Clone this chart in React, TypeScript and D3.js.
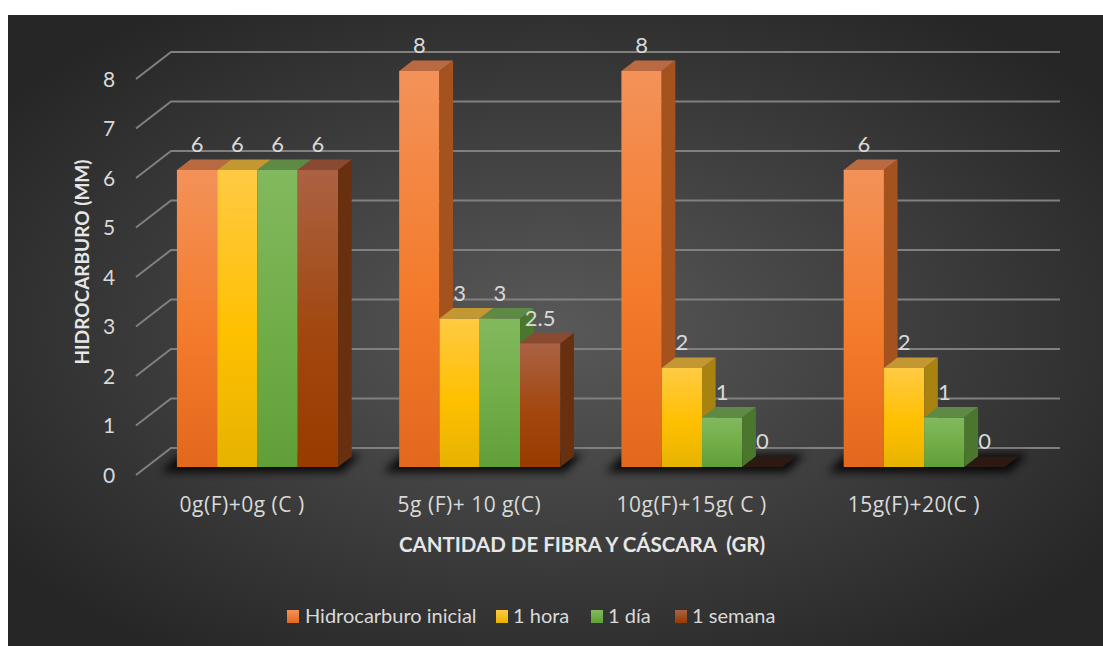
import React from "react";
import * as d3 from "d3";

// Chart data
const categories = ["0g(F)+0g (C )", "5g (F)+ 10 g(C)", "10g(F)+15g( C )", "15g(F)+20(C )"];
const seriesNames = ["Hidrocarburo inicial", "1 hora", "1 día", "1 semana"];
const hidrocarburoInicial = [6, 8, 8, 6];
const unaHora = [6, 3, 2, 2];
const unDia = [6, 3, 1, 1];
const unaSemana = [6, 2.5, 0, 0];
const yTicks = [0, 1, 2, 3, 4, 5, 6, 7, 8];
const yTitle = "HIDROCARBURO (MM)";
const xTitle = "CANTIDAD DE FIBRA Y CÁSCARA  (GR)";

const seriesValues = [hidrocarburoInicial, unaHora, unDia, unaSemana];

// Face colours per series: front gradient (top, mid, bottom), side, top
const palette = [
  { f: ["#f39259", "#f47b2b", "#e2681c"], side: "#a4531f", top: "#b96a40", swatch: ["#f39259", "#e2681c"] },
  { f: ["#ffca44", "#ffc000", "#e6b300"], side: "#a98310", top: "#c39732", swatch: ["#ffca44", "#e6b300"] },
  { f: ["#82b95e", "#70ad47", "#609f37"], side: "#4a772d", top: "#5e8a46", swatch: ["#82b95e", "#609f37"] },
  { f: ["#ab6243", "#a2470f", "#973b00"], side: "#68300f", top: "#8a4a32", swatch: ["#ab6243", "#973b00"] },
];

const W = 1103;
const H = 646;

// Oblique projection: full depth offset of the back wall
const DX = 35;
const DY = -27;
const zFront = 0.296;
const zBack = 0.685;

const FONT = "Lato, 'Open Sans', sans-serif";
const CAT_FONT = "'Open Sans', Lato, sans-serif";

export default function App() {
  const x0 = d3
    .scaleBand<string>()
    .domain(categories)
    .range([136, 1025])
    .paddingInner(0.275)
    .paddingOuter(0.1375);
  const x1 = d3
    .scaleBand<string>()
    .domain(seriesNames)
    .range([0, x0.bandwidth()])
    .padding(0);
  const y = d3.scaleLinear().domain([0, 8]).range([475, 79]);

  const proj = (x: number, yy: number, z: number): [number, number] => [x + DX * z, yy + DY * z];
  const poly = (pts: [number, number][]) => pts.map((p) => p.join(",")).join(" ");

  const bars: React.ReactNode[] = [];
  const labels: React.ReactNode[] = [];
  const shadows: React.ReactNode[] = [];

  categories.forEach((cat, ci) => {
    const gx = x0(cat)!;
    const gw = x0.bandwidth();
    // soft floor shadow beneath the cluster
    const s = [
      proj(gx - 14, y(0) + 4, zFront - 0.05),
      proj(gx + gw + 6, y(0) + 4, zFront - 0.05),
      proj(gx + gw + 6, y(0), zBack + 0.08),
      proj(gx - 14, y(0), zBack + 0.08),
    ];
    shadows.push(
      <polygon key={`sh${ci}`} points={poly(s)} fill="#000" opacity={0.85} filter="url(#blurShadow)" />
    );

    seriesNames.forEach((sn, si) => {
      const v = seriesValues[si][ci];
      const bx = gx + x1(sn)!;
      const bw = x1.bandwidth();
      const yt = y(v);
      const yb = y(0);
      const front = [proj(bx, yt, zFront), proj(bx + bw, yt, zFront), proj(bx + bw, yb, zFront), proj(bx, yb, zFront)];
      const side = [proj(bx + bw, yt, zFront), proj(bx + bw, yt, zBack), proj(bx + bw, yb, zBack), proj(bx + bw, yb, zFront)];
      const top = [proj(bx, yt, zFront), proj(bx + bw, yt, zFront), proj(bx + bw, yt, zBack), proj(bx, yt, zBack)];
      const c = palette[si];
      bars.push(
        <g key={`b${ci}-${si}`}>
          {v > 0 && <polygon points={poly(front)} fill={`url(#front${si})`} />}
          {v > 0 && <polygon points={poly(side)} fill={c.side} />}
          <polygon points={poly(top)} fill={v > 0 ? c.top : "#2c1a12"} />
        </g>
      );
      const [lx] = proj(bx + bw / 2, yt, zFront);
      const [, ly] = proj(bx, yt, zBack);
      labels.push(
        <text
          key={`l${ci}-${si}`}
          x={lx}
          y={ly - 15}
          dy="0.36em"
          textAnchor="middle"
          fontFamily={FONT}
          fontSize={22}
          fill="#d9d9d9"
        >
          {d3.format("~g")(v)}
        </text>
      );
    });
  });

  const legendItems = [
    { x: 287, tx: 305 },
    { x: 496, tx: 513 },
    { x: 591, tx: 608 },
    { x: 675, tx: 692 },
  ];

  return (
    <svg
      width={W}
      height={H}
      style={{ position: "fixed", left: 0, top: 0, display: "block" }}
    >
      <defs>
        <radialGradient id="bg" cx="0.5" cy="0.5" r="0.62" gradientUnits="objectBoundingBox">
          <stop offset="0" stopColor="#595959" />
          <stop offset="1" stopColor="#262626" />
        </radialGradient>
        {palette.map((c, i) => (
          <linearGradient key={i} id={`front${i}`} x1="0" y1="0" x2="0" y2="1">
            <stop offset="0" stopColor={c.f[0]} />
            <stop offset="0.55" stopColor={c.f[1]} />
            <stop offset="1" stopColor={c.f[2]} />
          </linearGradient>
        ))}
        {palette.map((c, i) => (
          <linearGradient key={`sw${i}`} id={`swatch${i}`} x1="0" y1="0" x2="0" y2="1">
            <stop offset="0" stopColor={c.swatch[0]} />
            <stop offset="1" stopColor={c.swatch[1]} />
          </linearGradient>
        ))}
        <filter id="blurShadow" x="-20%" y="-100%" width="140%" height="300%">
          <feGaussianBlur stdDeviation="4" />
        </filter>
      </defs>
      <rect x={0} y={0} width={W} height={H} fill="#fff" />
      <rect x={8} y={15} width={W - 8} height={H - 15} fill="url(#bg)" />

      {/* gridlines: side wall diagonal + back wall */}
      <g stroke="#808080" strokeWidth={2} fill="none">
        {yTicks.map((t) => {
          const [ax, ay] = proj(x0.range()[0], y(t), 0);
          const [bx, by] = proj(x0.range()[0], y(t), 1);
          const [cx, cy] = proj(x0.range()[1], y(t), 1);
          return <polyline key={t} points={`${ax},${ay} ${bx},${by} ${cx},${cy}`} />;
        })}
      </g>

      {/* y tick labels */}
      <g fontFamily={FONT} fontSize={21} fill="#d9d9d9" textAnchor="middle">
        {yTicks.map((t) => (
          <text key={t} x={109} y={y(t)} dy="0.36em">
            {t}
          </text>
        ))}
      </g>

      {shadows}
      {bars}
      {labels}

      {/* category labels */}
      <g fontFamily={CAT_FONT} fontSize={21} letterSpacing={0.5} fill="#d9d9d9" textAnchor="middle">
        {categories.map((c, i) => (
          <text key={c} x={x0(c)! + x0.bandwidth() / 2 - (i === 0 ? 5 : 0)} y={505} dy="0.35em" style={{ whiteSpace: "pre" }}>
            {c}
          </text>
        ))}
      </g>

      {/* axis titles */}
      <text
        x={582}
        y={552}
        textAnchor="middle"
        fontFamily={FONT}
        fontWeight="bold"
        fontSize={20.5}
        fill="#e6e6e6"
        style={{ whiteSpace: "pre" }}
      >
        {xTitle}
      </text>
      <text
        transform="translate(89,262) rotate(-90)"
        textAnchor="middle"
        fontFamily={FONT}
        fontWeight="bold"
        fontSize={19}
        fill="#e6e6e6"
      >
        {yTitle}
      </text>

      {/* legend */}
      <g fontFamily={FONT} fontSize={20} fill="#d9d9d9">
        {seriesNames.map((s, i) => (
          <g key={s}>
            <rect x={legendItems[i].x} y={610} width={12} height={13} fill={`url(#swatch${i})`} />
            <text x={legendItems[i].tx} y={623}>
              {s}
            </text>
          </g>
        ))}
      </g>
    </svg>
  );
}
